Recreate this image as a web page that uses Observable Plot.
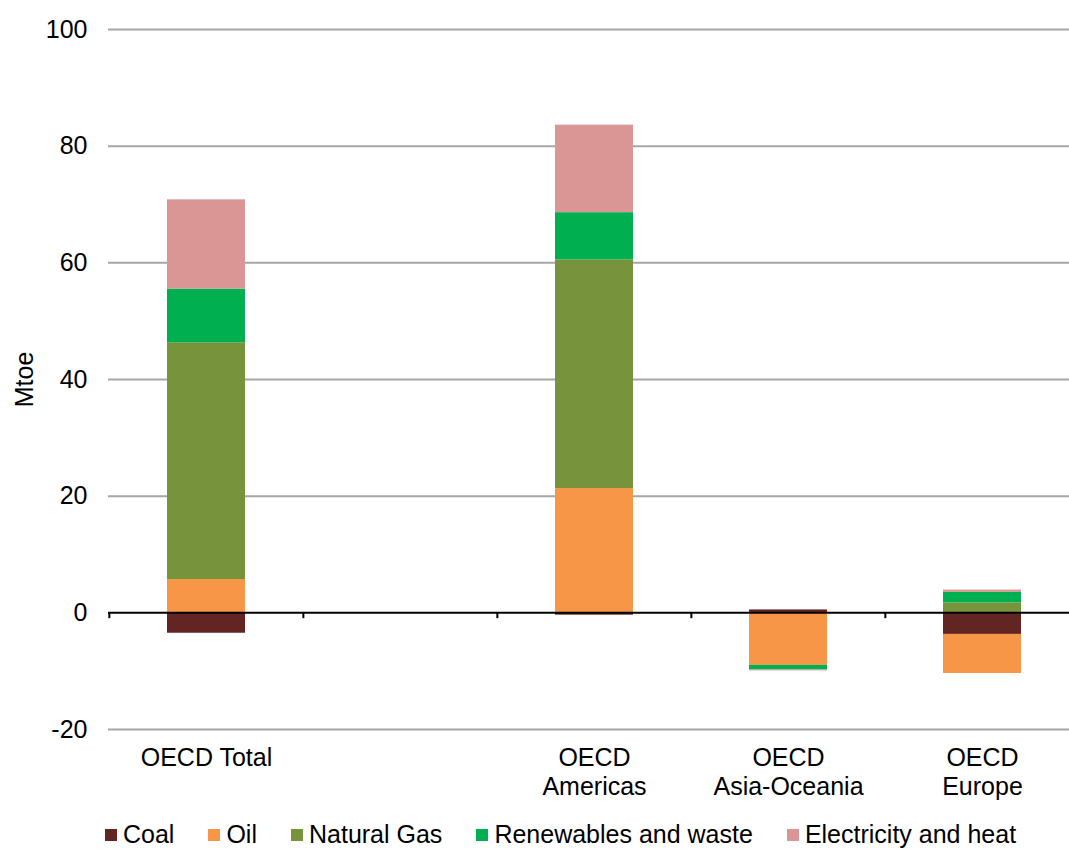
<!DOCTYPE html>
<html><head><meta charset="utf-8">
<script src="https://cdn.jsdelivr.net/npm/d3@7"></script>
<script src="https://cdn.jsdelivr.net/npm/@observablehq/plot@0.6"></script>
<style>
body{margin:0;background:#fff;font-family:"Liberation Sans",Arial,sans-serif;}
#legend{display:flex;align-items:center;height:29px;padding-left:105px;font-size:25px;color:#000;white-space:nowrap;}
.item{display:flex;align-items:center;margin-right:34px;}
.sw{width:12px;height:12px;margin-right:6px;}
</style></head><body><div id="chart"></div><div id="legend"></div>
<script>
const regions = ["OECD Total", "gap", "OECD Americas", "OECD Asia-Oceania", "OECD Europe"];
const regionLabels = ["OECD Total", "", "OECD\nAmericas", "OECD\nAsia-Oceania", "OECD\nEurope"];
const sources = ["Coal", "Oil", "Natural Gas", "Renewables and waste", "Electricity and heat"];
const colors = ["#632523", "#F79646", "#77933C", "#00B050", "#D99694"];
const coal  = [-3.5, null, -0.4,  0.5, -3.7];
const oil   = [ 5.7, null, 21.3, -9.0, -6.7];
const gas   = [40.6, null, 39.2,  0.0,  1.7];
const renew = [ 9.2, null,  8.1, -0.8,  1.8];
const elec  = [15.3, null, 15.0, -0.15, 0.4];
const yTicks = [-20, 0, 20, 40, 60, 80, 100];

const series = [coal, oil, gas, renew, elec];
const table = [];
regions.forEach((r, i) => {
  series.forEach((vals, j) => {
    if (vals[i] != null) table.push({region: r, source: sources[j], value: vals[i]});
  });
});

const font = '"Liberation Sans", Arial, sans-serif';
const chart = Plot.plot({
  width: 1069, height: 820,
  marginLeft: 108, marginRight: 0, marginTop: 29, marginBottom: 91,
  style: {fontFamily: font, fontSize: "25px", color: "#000", background: "#fff"},
  x: {domain: regions, range: [108, 1079.5], paddingInner: 0.6, paddingOuter: 0.3, align: 0.5},
  y: {domain: [-20, 100]},
  color: {domain: sources, range: colors},
  marks: [
    Plot.ruleY(yTicks.filter(d => d !== 0), {stroke: "#a6a6a6", strokeWidth: 2}),
    Plot.barY(table, {x: "region", y: "value", fill: "source"}),
    Plot.ruleY([0], {stroke: "#000", strokeWidth: 2}),
    Plot.ruleX(regions, {x: d => d, y1: 0, y2: -1, dx: -97.15, stroke: "#000", strokeWidth: 2}),
    Plot.axisY({ticks: yTicks, tickSize: 0, tickPadding: 21, tickFormat: d => String(d), label: null, fontSize: 25}),
    Plot.axisX({tickSize: 0, tickPadding: 16, tickFormat: d => regionLabels[regions.indexOf(d)], label: null, fontSize: 25, lineHeight: 1.16}),
    Plot.text(["Mtoe"], {frameAnchor: "left", dx: -84, rotate: -90, fontSize: 25, textAnchor: "middle"})
  ]
});
document.getElementById("chart").appendChild(chart);

const legend = document.getElementById("legend");
sources.forEach((s, i) => {
  const it = document.createElement("div"); it.className = "item";
  const sw = document.createElement("span"); sw.className = "sw"; sw.style.background = colors[i];
  const tx = document.createElement("span"); tx.textContent = s;
  it.appendChild(sw); it.appendChild(tx); legend.appendChild(it);
});
</script></body></html>
